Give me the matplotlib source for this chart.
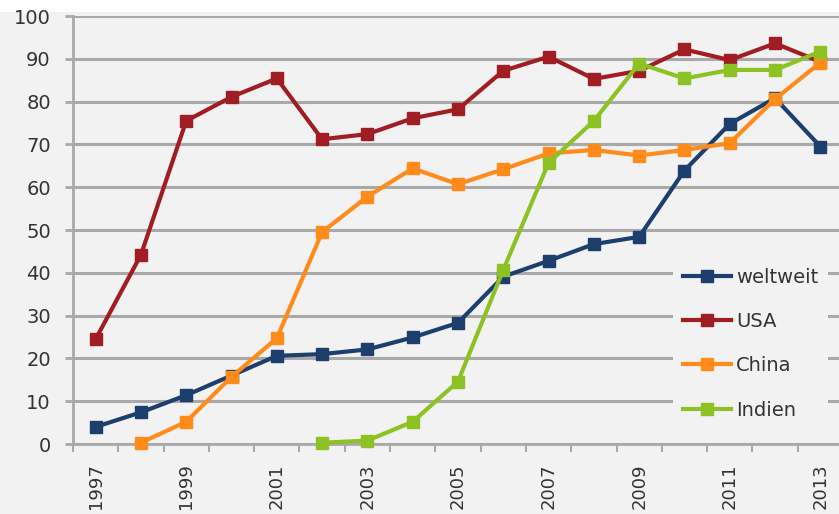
import matplotlib
matplotlib.use("Agg")
import numpy as np
from matplotlib import pyplot as plt
from matplotlib.patches import Rectangle

years = list(range(1997, 2014))

weltweit = [4.0, 7.4, 11.4, 16.0, 20.6, 21.0, 22.1, 24.9, 28.3, 39.1, 42.8,
            46.7, 48.4, 63.9, 74.8, 80.8, 69.5]
usa = [24.5, 44.2, 75.5, 81.1, 85.4, 71.2, 72.4, 76.1, 78.2, 87.2, 90.5,
       85.3, 87.2, 92.2, 89.7, 93.6, 89.3]
china = [None, 0.3, 5.2, 15.7, 24.7, 49.5, 57.8, 64.4, 60.7, 64.2, 67.9,
         68.7, 67.4, 68.7, 70.3, 80.6, 89.1]
indien = [None, None, None, None, None, 0.3, 0.8, 5.2, 14.6, 40.7, 65.7,
          75.5, 88.9, 85.4, 87.4, 87.4, 91.7]

series = [("weltweit", weltweit, "#1c3f6e"),
          ("USA", usa, "#a11d24"),
          ("China", china, "#ff8c1a"),
          ("Indien", indien, "#8dc224")]

bg = "#f2f2f2"
grid_col = "#a9a9a9"
text_col = "#333333"

fig = plt.figure(figsize=(8.39, 5.14), dpi=100, facecolor=bg)
# white strip along the top edge
fig.patches.append(Rectangle((0, 1 - 12 / 514), 1, 12 / 514, transform=fig.transFigure,
                             facecolor="white", edgecolor="none", zorder=-1))

ax = fig.add_axes([73 / 839, 70 / 514, 770 / 839, 428 / 514])
ax.set_facecolor(bg)

for name, vals, col in series:
    y = np.array([np.nan if v is None else v for v in vals], dtype=float)
    ax.plot(years, y, color=col, lw=3, marker="s", ms=9, label=name,
            clip_on=False, zorder=3)

ax.set_xlim(1996.5, 2013.5)
ax.set_ylim(0, 100)
ax.set_yticks(range(0, 101, 10))
ax.yaxis.grid(True, color=grid_col, lw=2.2)
ax.set_axisbelow(True)

# category boundaries carry the tick marks, labels sit on every other year
ax.set_xticks(np.arange(1996.5, 2014, 1))
ax.set_xticklabels([])
ax.set_xticks(years[::2], minor=True)
ax.set_xticklabels([str(y) for y in years[::2]], minor=True, rotation=90,
                   fontsize=13, color=text_col)
ax.tick_params(axis="x", which="minor", length=0, pad=14)
ax.tick_params(axis="x", which="major", length=6, width=1.5, color=grid_col)
ax.tick_params(axis="y", length=6, width=2, color=grid_col, pad=10,
               labelsize=14, labelcolor=text_col)

for side in ("top", "right"):
    ax.spines[side].set_visible(False)
for side in ("left", "bottom"):
    ax.spines[side].set_color(grid_col)
    ax.spines[side].set_linewidth(2)

leg = ax.legend(loc="upper left", bbox_to_anchor=(673 / 839, 1 - 258 / 514),
                bbox_transform=fig.transFigure, fontsize=14, frameon=True,
                facecolor=bg, edgecolor="none", framealpha=1,
                labelspacing=1.3, handlelength=2.5, handletextpad=0.25,
                borderpad=0.5, borderaxespad=0, fancybox=False)
for t in leg.get_texts():
    t.set_color(text_col)
leg.set_zorder(2)

fig.savefig("out.png", dpi=100, facecolor=fig.get_facecolor())
